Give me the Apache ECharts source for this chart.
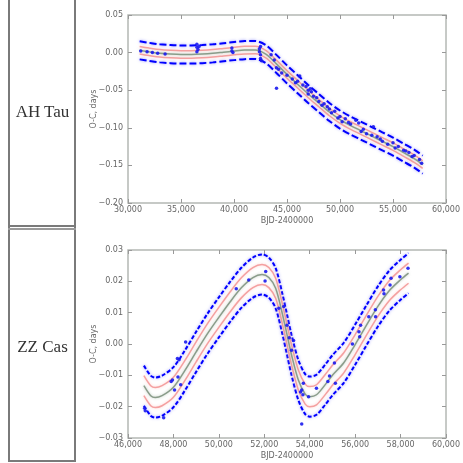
<!DOCTYPE html>
<html>
<head>
<meta charset="utf-8">
<script src="https://cdn.jsdelivr.net/npm/echarts@6/dist/echarts.min.js"></script>
<style>
  html, body { margin: 0; padding: 0; background: #fff; }
  #wrap { position: relative; width: 463px; height: 463px; overflow: hidden; }
  #chart { position: absolute; left: 0; top: 0; width: 463px; height: 463px; }
  .vline { position: absolute; width: 2px; background: #7a7a7a; }
  .hline { position: absolute; height: 2px; background: #7a7a7a; }
  .lbl { position: absolute; left: 9px; width: 67px; text-align: center;
         font-family: "Liberation Serif", "DejaVu Serif", serif; font-size: 17px; color: #333; }
</style>
</head>
<body>
<div id="wrap">
  <div id="chart"></div>
  <div class="vline" style="left:8px; top:0; height:462px;"></div>
  <div class="vline" style="left:74px; top:0; height:462px;"></div>
  <div class="hline" style="left:8px; top:225px; width:68px;"></div>
  <div class="hline" style="left:8px; top:228px; width:68px; background:#9a9a9a;"></div>
  <div class="hline" style="left:8px; top:460px; width:68px;"></div>
  <div class="lbl" style="top:102px;">AH Tau</div>
  <div class="lbl" style="top:337px;">ZZ Cas</div>
</div>
<script>
// ---------- AH Tau ----------
const ahX = [31100, 32000, 33000, 34000, 35000, 36000, 37000, 38000, 39000, 40000, 41000, 42000, 43000, 44000, 45000, 46000, 47000, 48000, 49000, 50000, 51000, 52000, 53000, 54000, 55000, 56000, 57000, 57800];
const ahFit = [0.003, 0.001, -0.001, -0.002, -0.0025, -0.0025, -0.002, -0.001, 0.0005, 0.002, 0.0033, 0.0035, -0.002, -0.015, -0.029, -0.042, -0.055, -0.067, -0.079, -0.089, -0.097, -0.104, -0.111, -0.118, -0.125, -0.133, -0.141, -0.149];
const ahPinkUp = [0.008, 0.006, 0.004, 0.003, 0.0025, 0.0025, 0.003, 0.004, 0.0055, 0.007, 0.0083, 0.0085, 0.003, -0.010, -0.024, -0.037, -0.050, -0.062, -0.074, -0.084, -0.092, -0.099, -0.106, -0.113, -0.120, -0.128, -0.136, -0.144];
const ahPinkLo = [-0.002, -0.004, -0.006, -0.007, -0.0075, -0.0075, -0.007, -0.006, -0.0045, -0.003, -0.0017, -0.0015, -0.007, -0.020, -0.034, -0.047, -0.060, -0.072, -0.084, -0.094, -0.102, -0.109, -0.116, -0.123, -0.130, -0.138, -0.146, -0.154];
const ahBlueUp = [0.015, 0.013, 0.011, 0.010, 0.0095, 0.0095, 0.010, 0.011, 0.0125, 0.014, 0.0153, 0.0155, 0.010, -0.003, -0.017, -0.030, -0.043, -0.055, -0.067, -0.077, -0.085, -0.092, -0.099, -0.106, -0.113, -0.121, -0.129, -0.137];
const ahBlueLo = [-0.009, -0.011, -0.013, -0.014, -0.0145, -0.0145, -0.014, -0.013, -0.0115, -0.010, -0.0087, -0.0085, -0.014, -0.027, -0.041, -0.054, -0.067, -0.079, -0.091, -0.101, -0.109, -0.116, -0.123, -0.130, -0.137, -0.145, -0.153, -0.161];
const ahObsX = [31200, 31800, 32300, 32800, 33500, 36500, 36500, 36600, 36500, 36700, 39800, 39800, 39900, 42400, 42400, 42500, 42500, 42600, 42500, 43500, 43800, 44000, 44200, 44500, 44010, 45000, 45500, 46000, 46200, 46800, 47000, 47000, 47200, 47500, 47800, 48000, 48300, 48500, 49000, 49200, 49500, 50000, 50200, 50500, 51000, 51500, 51760, 52000, 52500, 53000, 53150, 53500, 54000, 54500, 55000, 55500, 56000, 56500, 57000, 57500, 57700, 45800, 46500, 47300, 48800, 49800, 50800, 52200, 53800, 55200, 56200, 56800];
const ahObsY = [0.002, 0.001, 0.000, -0.001, -0.002, 0.011, 0.007, 0.004, 0.001, 0.008, 0.006, 0.002, 0.000, 0.005, 0.001, -0.003, -0.008, -0.011, 0.008, -0.003, -0.010, -0.020, -0.022, -0.027, -0.0475, -0.030, -0.035, -0.038, -0.031, -0.045, -0.050, -0.055, -0.048, -0.058, -0.060, -0.065, -0.070, -0.068, -0.075, -0.080, -0.078, -0.085, -0.092, -0.088, -0.095, -0.090, -0.0936, -0.105, -0.108, -0.110, -0.0985, -0.112, -0.118, -0.122, -0.120, -0.125, -0.130, -0.133, -0.137, -0.142, -0.147, -0.040, -0.043, -0.052, -0.072, -0.087, -0.093, -0.102, -0.115, -0.127, -0.131, -0.138];

// ---------- ZZ Cas ----------
const zzX = [46700, 47000, 47200, 47500, 48000, 48500, 49000, 49500, 50000, 50500, 51000, 51500, 51900, 52200, 52500, 52800, 53000, 53200, 53500, 53800, 54000, 54300, 54700, 55000, 55500, 56000, 56500, 57000, 57500, 58000, 58350];
const zzFit = [-0.0133, -0.0165, -0.0171, -0.0165, -0.0138, -0.0085, -0.0025, 0.0033, 0.0085, 0.0135, 0.0180, 0.0212, 0.0222, 0.0212, 0.0178, 0.0095, 0.0030, -0.0035, -0.0115, -0.0160, -0.0168, -0.0162, -0.0128, -0.0100, -0.0060, -0.0002, 0.0060, 0.0120, 0.0170, 0.0205, 0.0226];
const zzPinkUp = [-0.0101, -0.0133, -0.0139, -0.0133, -0.0106, -0.0053, 0.0007, 0.0065, 0.0117, 0.0167, 0.0212, 0.0244, 0.0254, 0.0244, 0.0210, 0.0127, 0.0062, -0.0003, -0.0083, -0.0128, -0.0136, -0.0130, -0.0096, -0.0068, -0.0028, 0.0030, 0.0092, 0.0152, 0.0202, 0.0237, 0.0258];
const zzPinkLo = [-0.0165, -0.0197, -0.0203, -0.0197, -0.0170, -0.0117, -0.0057, 0.0001, 0.0053, 0.0103, 0.0148, 0.0180, 0.0190, 0.0180, 0.0146, 0.0063, -0.0002, -0.0067, -0.0147, -0.0192, -0.0200, -0.0194, -0.0160, -0.0132, -0.0092, -0.0034, 0.0028, 0.0088, 0.0138, 0.0173, 0.0194];
const zzBlueUp = [-0.0069, -0.0101, -0.0107, -0.0101, -0.0074, -0.0021, 0.0039, 0.0097, 0.0149, 0.0199, 0.0244, 0.0276, 0.0286, 0.0276, 0.0242, 0.0159, 0.0094, 0.0029, -0.0051, -0.0096, -0.0104, -0.0098, -0.0064, -0.0036, 0.0004, 0.0062, 0.0124, 0.0184, 0.0234, 0.0269, 0.0290];
const zzBlueLo = [-0.0197, -0.0229, -0.0235, -0.0229, -0.0202, -0.0149, -0.0089, -0.0031, 0.0021, 0.0071, 0.0116, 0.0148, 0.0158, 0.0148, 0.0114, 0.0031, -0.0034, -0.0099, -0.0179, -0.0224, -0.0232, -0.0226, -0.0192, -0.0164, -0.0124, -0.0066, -0.0004, 0.0056, 0.0106, 0.0141, 0.0162];
const zzObsX = [46735, 46760, 47570, 47960, 48175, 48320, 47900, 48050, 48200, 48536, 48247, 50766, 51315, 52063, 52035, 52640, 52857, 53000, 53100, 53289, 53200, 53648, 53648, 53600, 53700, 53950, 53720, 54297, 54871, 54800, 55088, 55130, 55880, 56167, 56240, 56200, 56600, 56890, 56900, 57250, 57270, 57537, 57580, 57970, 58328];
const zzObsY = [-0.0205, -0.0213, -0.0235, -0.0115, -0.0046, -0.013, -0.012, -0.0147, -0.0105, 0.0006, -0.005, 0.0176, 0.0204, 0.0231, 0.0201, 0.0114, 0.012, 0.006, 0.002, 0.0011, -0.002, -0.0147, -0.0255, -0.0153, -0.0162, -0.0168, -0.0125, -0.0141, -0.0102, -0.012, -0.0061, -0.0125, 0.0000, 0.0039, 0.006, 0.0023, 0.0087, 0.0109, 0.0087, 0.0172, 0.016, 0.0188, 0.021, 0.0215, 0.0242];

// axis settings (ticks)
const ahXTicks = {min: 30000, max: 60000, interval: 5000};
const ahYTicks = {min: -0.20, max: 0.05, interval: 0.05};
const zzXTicks = {min: 46000, max: 60000, interval: 2000};
const zzYTicks = {min: -0.03, max: 0.03, interval: 0.01};

const FRAME = '#b4b8b4';
const TXT = '#666';
const FONT = 'DejaVu Sans';

function fmtY(v) {
  if (Math.abs(v) < 1e-9) return '0.00';
  return v.toFixed(2).replace('-', '\u2212');
}
function pairs(xs, ys) { return xs.map((x, i) => [x, ys[i]]); }

function mkX(gi, t, pos, withLabels) {
  return {
    type: 'value', gridIndex: gi, position: pos, min: t.min, max: t.max, interval: t.interval,
    axisLine: {show: false, onZero: false},
    axisTick: {show: true, inside: true, length: 4, lineStyle: {color: '#999', width: 1}},
    axisLabel: {show: withLabels, color: TXT, fontSize: 8, fontFamily: FONT, margin: 3},
    splitLine: {show: false},
    name: withLabels ? 'BJD-2400000' : '', nameLocation: 'middle', nameGap: 14,
    nameMoveOverlap: false,
    nameTextStyle: {color: TXT, fontSize: 8, fontFamily: FONT}
  };
}
function mkY(gi, t, pos, withLabels) {
  return {
    type: 'value', gridIndex: gi, position: pos, min: t.min, max: t.max, interval: t.interval,
    axisLine: {show: false, onZero: false},
    axisTick: {show: true, inside: true, length: 4, lineStyle: {color: '#999', width: 1}},
    axisLabel: {show: withLabels, color: TXT, fontSize: 8, fontFamily: FONT, margin: 5, formatter: fmtY},
    splitLine: {show: false},
    name: withLabels ? 'O-C, days' : '', nameLocation: 'middle', nameGap: 30,
    nameMoveOverlap: false,
    nameTextStyle: {color: TXT, fontSize: 8, fontFamily: FONT}
  };
}

function lineSeries(xi, yi, xs, ys, color, width, type, glow) {
  return {
    type: 'line', xAxisIndex: xi, yAxisIndex: yi, data: pairs(xs, ys),
    showSymbol: false, smooth: 0.3, silent: true, z: 2,
    lineStyle: {color: color, width: width, type: type,
      shadowColor: glow, shadowBlur: 3}
  };
}
function scatterSeries(xi, yi, xs, ys) {
  return {
    type: 'scatter', xAxisIndex: xi, yAxisIndex: yi, data: pairs(xs, ys),
    symbolSize: 3.5, silent: true, z: 3,
    itemStyle: {color: '#1a1aee', opacity: 0.9}
  };
}

const chart = echarts.init(document.getElementById('chart'), null, {renderer: 'canvas'});
chart.setOption({
  animation: false,
  backgroundColor: '#fff',
  grid: [
    {left: 128, top: 15, width: 324, height: 188, show: true, borderColor: FRAME, borderWidth: 1.5, backgroundColor: 'transparent'},
    {left: 128, top: 250, width: 324, height: 188, show: true, borderColor: FRAME, borderWidth: 1.5, backgroundColor: 'transparent'}
  ],
  xAxis: [
    mkX(0, ahXTicks, 'bottom', true),
    mkX(0, ahXTicks, 'top', false),
    mkX(1, zzXTicks, 'bottom', true),
    mkX(1, zzXTicks, 'top', false)
  ],
  yAxis: [
    mkY(0, ahYTicks, 'left', true),
    mkY(0, ahYTicks, 'right', false),
    mkY(1, zzYTicks, 'left', true),
    mkY(1, zzYTicks, 'right', false)
  ],
  series: [
    lineSeries(0, 0, ahX, ahBlueUp, '#0000ff', 2, [7, 3], 'rgba(80,80,255,0.6)'),
    lineSeries(0, 0, ahX, ahBlueLo, '#0000ff', 2, [7, 3], 'rgba(80,80,255,0.6)'),
    lineSeries(0, 0, ahX, ahPinkUp, '#f4a0a0', 1.5, 'solid', 'rgba(255,180,180,0.6)'),
    lineSeries(0, 0, ahX, ahPinkLo, '#f4a0a0', 1.5, 'solid', 'rgba(255,180,180,0.6)'),
    lineSeries(0, 0, ahX, ahFit, '#8a9c8a', 1.5, 'solid', 'rgba(150,170,150,0.6)'),
    scatterSeries(0, 0, ahObsX, ahObsY),

    lineSeries(2, 2, zzX, zzBlueUp, '#0000ff', 2, [4, 2], 'rgba(80,80,255,0.6)'),
    lineSeries(2, 2, zzX, zzBlueLo, '#0000ff', 2, [4, 2], 'rgba(80,80,255,0.6)'),
    lineSeries(2, 2, zzX, zzPinkUp, '#f4a0a0', 1.5, 'solid', 'rgba(255,180,180,0.6)'),
    lineSeries(2, 2, zzX, zzPinkLo, '#f4a0a0', 1.5, 'solid', 'rgba(255,180,180,0.6)'),
    lineSeries(2, 2, zzX, zzFit, '#8a9c8a', 1.5, 'solid', 'rgba(150,170,150,0.6)'),
    scatterSeries(2, 2, zzObsX, zzObsY)
  ]
});
</script>
</body>
</html>
